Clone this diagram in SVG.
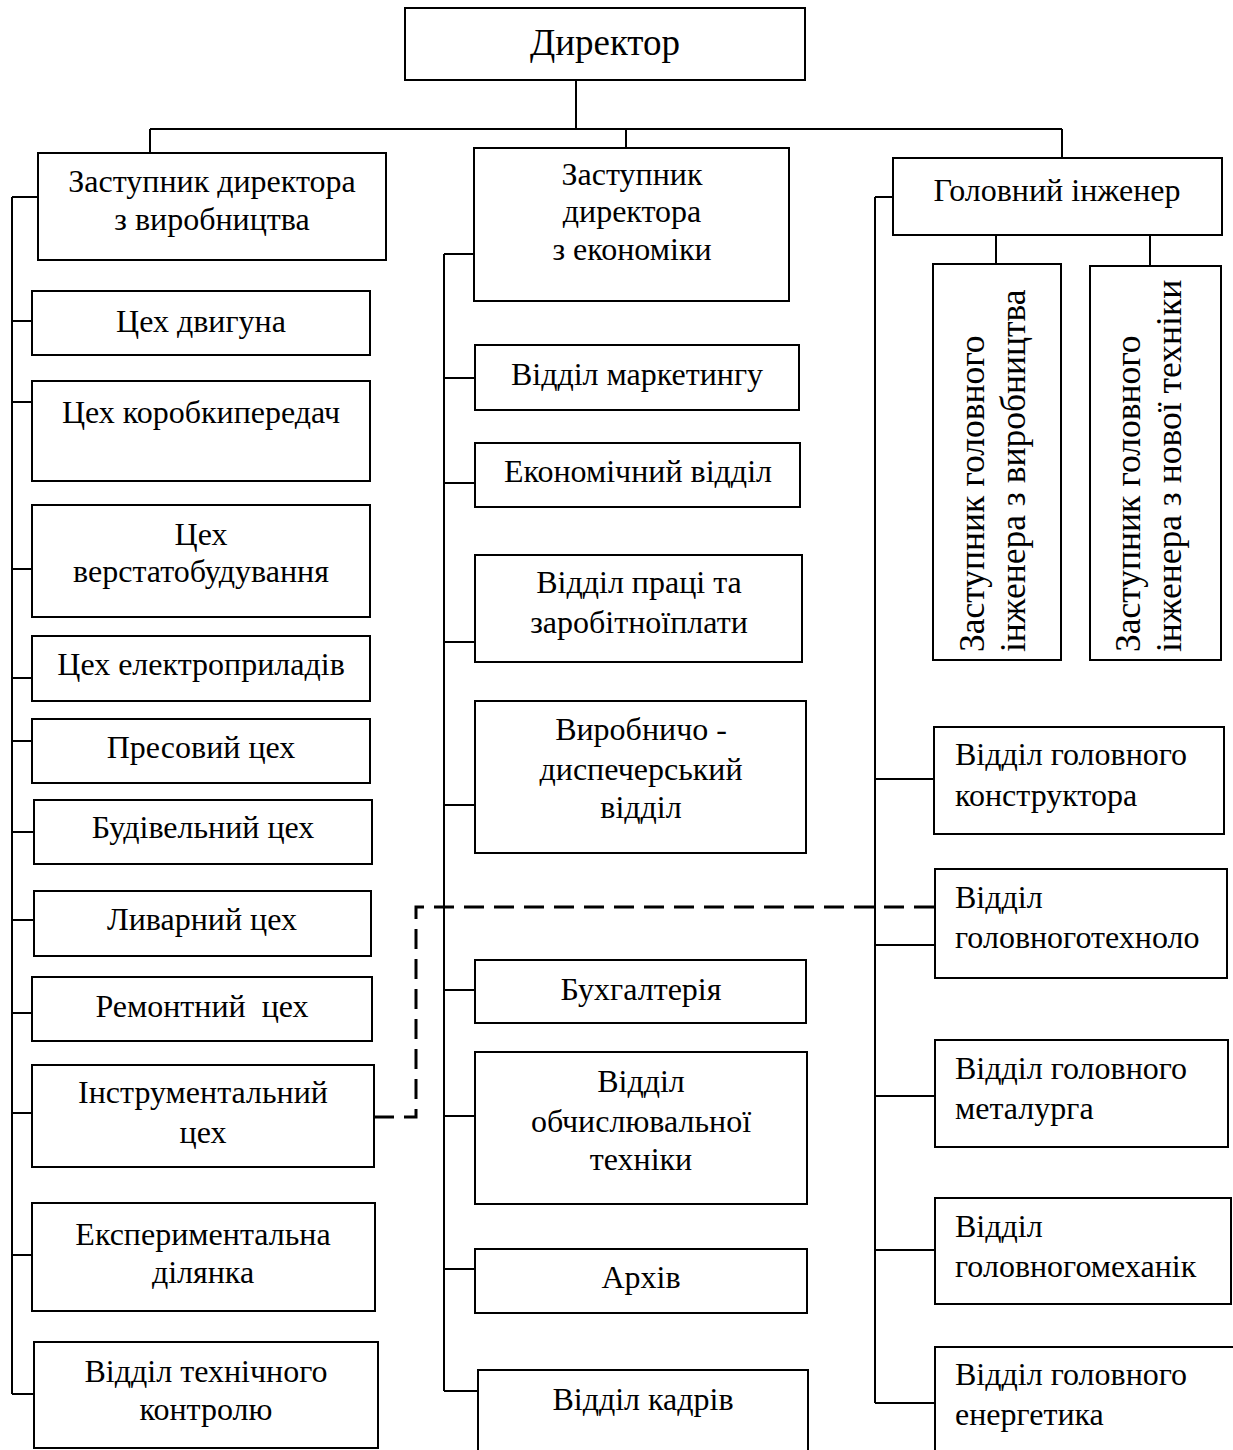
<svg xmlns="http://www.w3.org/2000/svg" width="1233" height="1450" viewBox="0 0 1233 1450">
<style>
.b{fill:#fff;stroke:#000;stroke-width:2}
.l{fill:none;stroke:#000;stroke-width:2}
.d{fill:none;stroke:#000;stroke-width:3;stroke-dasharray:20 10}
text{font-family:"Liberation Serif","Times New Roman",serif;font-size:32px;fill:#000}
.c{text-anchor:middle}
.r{font-size:35.5px}
</style>
<rect width="1233" height="1450" fill="#fff"/>
<g id="connectors">
<path class="l" d="M576 80V129M150 129H1062M150 129V153M626 129V148M1062 129V158"/>
<path class="l" d="M12 197H38M12 197V1394"/>
<path class="l" d="M12 321H32M12 402H32M12 569H32M12 678H32M12 741H32M12 832H34M12 920H34M12 1013H32M12 1113H32M12 1255H32M12 1394H34"/>
<path class="l" d="M444 254H476M444 254V1391"/>
<path class="l" d="M444 378H475M444 483H475M444 642H475M444 805H475M444 990H475M444 1116H475M444 1269H475M444 1391H478"/>
<path class="l" d="M875 197H893M875 197V1403"/>
<path class="l" d="M996 235V264M1150 235V266"/>
<path class="l" d="M875 779H934M875 945H935M875 1096H935M875 1250H935M875 1403H935"/>
<path class="d" d="M374 1117H416V907H950"/>
</g>
<g id="director"><rect class="b" x="405" y="8" width="400" height="72"/><text class="c" x="605" y="55" style="font-size:37px">Директор</text></g>
<g id="dep-prod"><rect class="b" x="38" y="153" width="348" height="107"/><text class="c" x="212" y="192">Заступник директора</text><text class="c" x="212" y="230">з виробництва</text></g>
<g id="dep-econ"><rect class="b" x="474" y="148" width="315" height="153"/><text class="c" x="632" y="185">Заступник</text><text class="c" x="632" y="222">директора</text><text class="c" x="632" y="260">з економіки</text></g>
<g id="chief-eng"><rect class="b" x="893" y="158" width="329" height="77"/><text class="c" x="1057" y="201">Головний інженер</text></g>
<g id="dep-chief-prod"><rect class="b" x="933" y="264" width="128" height="396"/><text class="r" transform="translate(984,652) rotate(-90)">Заступник головного</text><text class="r" transform="translate(1025,652) rotate(-90)">інженера з виробництва</text></g>
<g id="dep-chief-new"><rect class="b" x="1090" y="266" width="131" height="394"/><text class="r" transform="translate(1140,652) rotate(-90)">Заступник головного</text><text class="r" transform="translate(1181,652) rotate(-90)">інженера з нової техніки</text></g>
<g id="shop-engine"><rect class="b" x="32" y="291" width="338" height="64"/><text class="c" x="201" y="332">Цех двигуна</text></g>
<g id="shop-gear"><rect class="b" x="32" y="381" width="338" height="100"/><text class="c" x="201" y="423">Цех коробкипередач</text></g>
<g id="shop-machine"><rect class="b" x="32" y="505" width="338" height="112"/><text class="c" x="201" y="545">Цех</text><text class="c" x="201" y="582">верстатобудування</text></g>
<g id="shop-electro"><rect class="b" x="32" y="636" width="338" height="65"/><text class="c" x="201" y="675">Цех електроприладів</text></g>
<g id="shop-press"><rect class="b" x="32" y="719" width="338" height="64"/><text class="c" x="201" y="758">Пресовий цех</text></g>
<g id="shop-build"><rect class="b" x="34" y="800" width="338" height="64"/><text class="c" x="203" y="838">Будівельний цех</text></g>
<g id="shop-foundry"><rect class="b" x="34" y="891" width="337" height="65"/><text class="c" x="202" y="930">Ливарний цех</text></g>
<g id="shop-repair"><rect class="b" x="32" y="977" width="340" height="64"/><text class="c" x="202" y="1017" xml:space="preserve">Ремонтний  цех</text></g>
<g id="shop-tool"><rect class="b" x="32" y="1065" width="342" height="102"/><text class="c" x="203" y="1103">Інструментальний</text><text class="c" x="203" y="1143">цех</text></g>
<g id="exp-site"><rect class="b" x="32" y="1203" width="343" height="108"/><text class="c" x="203" y="1245">Експериментальна</text><text class="c" x="203" y="1283">ділянка</text></g>
<g id="qc"><rect class="b" x="34" y="1342" width="344" height="106"/><text class="c" x="206" y="1382">Відділ технічного</text><text class="c" x="206" y="1420">контролю</text></g>
<g id="marketing"><rect class="b" x="475" y="345" width="324" height="65"/><text class="c" x="637" y="385">Відділ маркетингу</text></g>
<g id="economic"><rect class="b" x="475" y="443" width="325" height="64"/><text class="c" x="638" y="482">Економічний відділ</text></g>
<g id="labor"><rect class="b" x="475" y="555" width="327" height="107"/><text class="c" x="639" y="593">Відділ праці та</text><text class="c" x="639" y="633">заробітноїплати</text></g>
<g id="dispatch"><rect class="b" x="475" y="701" width="331" height="152"/><text class="c" x="641" y="740">Виробничо -</text><text class="c" x="641" y="780">диспечерський</text><text class="c" x="641" y="818">відділ</text></g>
<g id="accounting"><rect class="b" x="475" y="960" width="331" height="63"/><text class="c" x="641" y="1000">Бухгалтерія</text></g>
<g id="computing"><rect class="b" x="475" y="1052" width="332" height="152"/><text class="c" x="641" y="1092">Відділ</text><text class="c" x="641" y="1132">обчислювальної</text><text class="c" x="641" y="1170">техніки</text></g>
<g id="archive"><rect class="b" x="475" y="1249" width="332" height="64"/><text class="c" x="641" y="1288">Архів</text></g>
<g id="hr"><rect class="b" x="478" y="1370" width="330" height="90"/><text class="c" x="643" y="1410">Відділ кадрів</text></g>
<g id="constructor"><rect class="b" x="934" y="727" width="290" height="107"/><text x="955" y="765">Відділ головного</text><text x="955" y="806">конструктора</text></g>
<g id="technologist"><rect class="b" x="935" y="869" width="292" height="109"/><text x="955" y="908">Відділ</text><text x="955" y="948">головноготехноло</text></g>
<g id="metallurgist"><rect class="b" x="935" y="1040" width="293" height="107"/><text x="955" y="1079">Відділ головного</text><text x="955" y="1119">металурга</text></g>
<g id="mechanic"><rect class="b" x="935" y="1198" width="296" height="106"/><text x="955" y="1237">Відділ</text><text x="955" y="1277">головногомеханік</text></g>
<g id="energy"><rect class="b" x="935" y="1347" width="300" height="110"/><text x="955" y="1385">Відділ головного</text><text x="955" y="1425">енергетика</text></g>
</svg>
